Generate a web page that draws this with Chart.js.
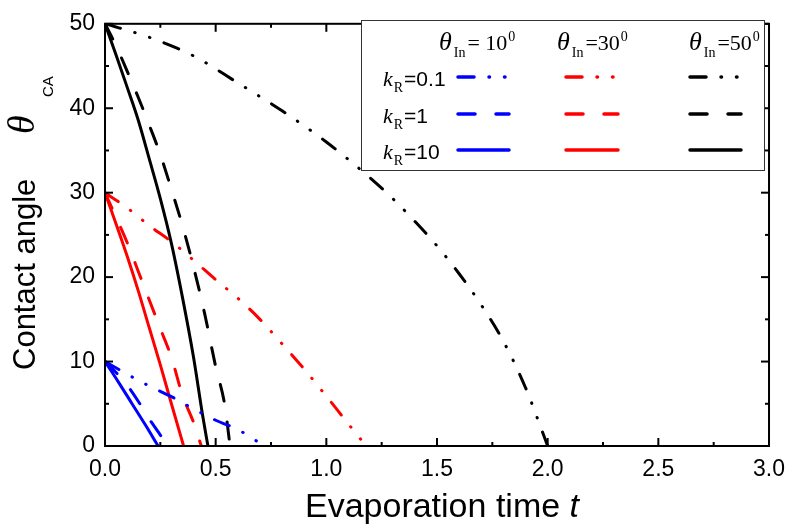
<!DOCTYPE html>
<html>
<head>
<meta charset="utf-8">
<script src="https://cdn.jsdelivr.net/npm/chart.js@4.4.1/dist/chart.umd.min.js"></script>
<style>
  html, body { margin: 0; padding: 0; background: #fff; }
  #wrap { width: 795px; height: 529px; }
</style>
</head>
<body>
<div id="wrap"><canvas id="angleChart" width="795" height="529"></canvas></div>
<script>
// ── contact angle vs evaporation time ──
const X_TICKS = [0, 0.5, 1.0, 1.5, 2.0, 2.5, 3.0];
const Y_TICKS = [0, 10, 20, 30, 40, 50];
const THETA_IN = [10, 30, 50];
const K_R = ['0.1', '1', '10'];

// θin = 10
const T_10_01 = [0, 0.1, 0.2, 0.3, 0.4, 0.5, 0.6, 0.7, 0.725];
const A_10_01 = [10, 8.5, 7.1, 5.85, 4.4, 3.05, 1.95, 0.35, 0];
const T_10_1 = [0, 0.05, 0.1, 0.15, 0.2, 0.25, 0.285];
const A_10_1 = [10, 8.7, 7.2, 5.3, 3.2, 1.3, 0];
const T_10_10 = [0, 0.06, 0.12, 0.18, 0.24];
const A_10_10 = [10, 7.6, 5.1, 2.6, 0];
// θin = 30
const T_30_01 = [0, 0.1, 0.2, 0.3, 0.4, 0.5, 0.6, 0.7, 0.8, 0.9, 1.0, 1.1, 1.18];
const A_30_01 = [30, 28.2, 26.1, 24.2, 22, 19.7, 17.5, 15, 12.1, 9.1, 5.9, 2.6, 0];
const T_30_1 = [0, 0.05, 0.1, 0.15, 0.2, 0.25, 0.3, 0.35, 0.4, 0.435];
const A_30_1 = [30, 27.1, 24.1, 20.7, 17.3, 13.9, 10.5, 6.0, 2.8, 0];
const T_30_10 = [0, 0.05, 0.1, 0.15, 0.2, 0.25, 0.3, 0.355];
const A_30_10 = [30, 26.3, 22.5, 18.4, 14.0, 9.6, 5.0, 0];
// θin = 50
const T_50_01 = [0, 0.2, 0.4, 0.6, 0.8, 1.0, 1.2, 1.3, 1.4, 1.5, 1.6, 1.7, 1.8, 1.9, 2.0];
const A_50_01 = [50, 48.4, 46.2, 43.0, 39.7, 36.0, 31.7, 29.3, 26.6, 23.7, 20.4, 16.7, 12.4, 6.9, 0];
const T_50_1 = [0, 0.05, 0.1, 0.15, 0.2, 0.25, 0.3, 0.35, 0.4, 0.45, 0.5, 0.54, 0.565];
const A_50_1 = [50, 47.4, 44.4, 41.3, 38, 34.5, 30.4, 26.1, 21.2, 15.7, 9.4, 5, 0];
const T_50_10 = [0, 0.05, 0.1, 0.15, 0.2, 0.25, 0.3, 0.35, 0.4, 0.44, 0.465];
const A_50_10 = [50, 46.3, 42.5, 38.6, 34.0, 29.3, 24, 17.6, 10.5, 3.8, 0];

const COLORS = ['#0000ff', '#ff0000', '#000000'];        // by θin
const DASHES = [[16, 15, 0.5, 15, 0.5, 15], [17, 21], []]; // by kR

const SANS = '"Liberation Sans", Arial, sans-serif';
const SERIF = '"Liberation Serif", "Times New Roman", serif';

const series = [
  [T_10_01, A_10_01, 0, 0], [T_10_1, A_10_1, 0, 1], [T_10_10, A_10_10, 0, 2],
  [T_30_01, A_30_01, 1, 0], [T_30_1, A_30_1, 1, 1], [T_30_10, A_30_10, 1, 2],
  [T_50_01, A_50_01, 2, 0], [T_50_1, A_50_1, 2, 1], [T_50_10, A_50_10, 2, 2],
];

function runs(ctx, x, y, parts) {
  parts.forEach(p => {
    ctx.font = p.font;
    x += p.gap || 0;
    ctx.fillText(p.text, x, y + (p.dy || 0));
    x += ctx.measureText(p.text).width;
  });
}

function line(ctx, x1, y1, x2, y2) {
  ctx.beginPath(); ctx.moveTo(x1, y1); ctx.lineTo(x2, y2); ctx.stroke();
}

const decor = {
  id: 'decor',
  afterDraw(chart) {
    const { ctx, chartArea: a, scales: { x, y } } = chart;
    ctx.save();
    ctx.strokeStyle = '#000';
    ctx.fillStyle = '#000';
    ctx.lineWidth = 2;
    ctx.lineCap = 'butt';

    // inward ticks on all four sides
    for (let i = 0; i < X_TICKS.length; i++) {
      const px = x.getPixelForValue(X_TICKS[i]);
      line(ctx, px, a.bottom, px, a.bottom - 8);
      line(ctx, px, a.top, px, a.top + 8);
      if (i < X_TICKS.length - 1) {
        const pm = x.getPixelForValue((X_TICKS[i] + X_TICKS[i + 1]) / 2);
        line(ctx, pm, a.bottom, pm, a.bottom - 4);
        line(ctx, pm, a.top, pm, a.top + 4);
      }
    }
    for (let i = 0; i < Y_TICKS.length; i++) {
      const py = y.getPixelForValue(Y_TICKS[i]);
      line(ctx, a.left, py, a.left + 8, py);
      line(ctx, a.right, py, a.right - 8, py);
      if (i < Y_TICKS.length - 1) {
        const pm = y.getPixelForValue((Y_TICKS[i] + Y_TICKS[i + 1]) / 2);
        line(ctx, a.left, pm, a.left + 4, pm);
        line(ctx, a.right, pm, a.right - 4, pm);
      }
    }
    ctx.strokeRect(a.left, a.top, a.width, a.height);

    // legend box
    ctx.fillStyle = '#fff';
    ctx.fillRect(361, 20, 403, 150);
    ctx.lineWidth = 1;
    ctx.strokeStyle = '#333';
    ctx.strokeRect(361.5, 20.5, 403, 150);
    ctx.fillStyle = '#000';
    ctx.textBaseline = 'alphabetic';
    ctx.textAlign = 'left';

    const headX = [439, 557, 689];
    const headEq = ['= 10', '=30', '=50'];
    THETA_IN.forEach((th, c) => {
      runs(ctx, headX[c], 50, [
        { text: 'θ', font: 'italic 26px ' + SERIF },
        { text: 'In', font: '14px ' + SERIF, dy: 7, gap: 2 },
        { text: headEq[c], font: '22px ' + SERIF, gap: 2 },
        { text: '0', font: '14px ' + SERIF, dy: -9, gap: 1 },
      ]);
    });
    const rowY = [77, 114, 150];
    const sampX = [[458, 509], [566, 618], [690, 741]];
    K_R.forEach((k, r) => {
      runs(ctx, 383, rowY[r] + 9, [
        { text: 'k', font: 'italic 22px ' + SERIF },
        { text: 'R', font: '14px ' + SERIF, dy: 6, gap: 1 },
        { text: '=' + k, font: '21px ' + SANS, gap: 1 },
      ]);
      THETA_IN.forEach((th, c) => {
        ctx.strokeStyle = COLORS[c];
        ctx.lineWidth = 3.5;
        ctx.lineCap = 'round';
        ctx.setLineDash(DASHES[r]);
        line(ctx, sampX[c][0], rowY[r], sampX[c][1], rowY[r]);
        ctx.setLineDash([]);
      });
    });

    // y title
    ctx.save();
    ctx.translate(35, 370);
    ctx.rotate(-Math.PI / 2);
    ctx.fillStyle = '#000';
    ctx.font = '31px ' + SANS;
    ctx.fillText('Contact angle', 0, 0);
    ctx.font = 'italic 38px ' + SERIF;
    ctx.fillText('θ', 236, -1);
    ctx.font = '15px ' + SANS;
    ctx.fillText('CA', 273, 18);
    ctx.restore();

    // x title
    ctx.font = '34px ' + SANS;
    const w1 = ctx.measureText('Evaporation time ').width;
    ctx.font = 'italic 34px ' + SANS;
    const w2 = ctx.measureText('t').width;
    const x0 = 442 - (w1 + w2) / 2;
    ctx.font = '34px ' + SANS;
    ctx.fillText('Evaporation time ', x0, 517);
    ctx.font = 'italic 34px ' + SANS;
    ctx.fillText('t', x0 + w1, 517);

    ctx.restore();
  }
};

new Chart(document.getElementById('angleChart'), {
  type: 'line',
  data: {
    datasets: series.map(([ts, as, c, k]) => ({
      label: 'θin=' + THETA_IN[c] + ' kR=' + K_R[k],
      data: ts.map((t, i) => ({ x: t, y: as[i] })),
      borderColor: COLORS[c],
      borderWidth: 3,
      borderDash: DASHES[k],
      borderCapStyle: 'round',
      pointRadius: 0,
      fill: false,
      cubicInterpolationMode: 'monotone',
    }))
  },
  options: {
    responsive: false,
    animation: false,
    devicePixelRatio: 1,
    layout: { padding: { left: 0, right: 25, top: 17, bottom: 0 } },
    plugins: { legend: { display: false }, tooltip: { enabled: false } },
    scales: {
      x: {
        type: 'linear', min: 0, max: 3,
        afterBuildTicks: s => { s.ticks = X_TICKS.map(v => ({ value: v })); },
        afterFit: s => { s.height = 83; },
        grid: { display: false, drawTicks: false },
        border: { display: false },
        ticks: { color: '#000', font: { family: SANS, size: 23 }, padding: 10, maxRotation: 0, autoSkip: false,
                 callback: v => v.toFixed(1) }
      },
      y: {
        type: 'linear', min: 0, max: 50,
        afterBuildTicks: s => { s.ticks = Y_TICKS.map(v => ({ value: v })); },
        afterFit: s => { s.width = 105; },
        grid: { display: false, drawTicks: false },
        border: { display: false },
        ticks: { color: '#000', font: { family: SANS, size: 23 }, padding: 10 }
      }
    }
  },
  plugins: [decor]
});
</script>
</body>
</html>
